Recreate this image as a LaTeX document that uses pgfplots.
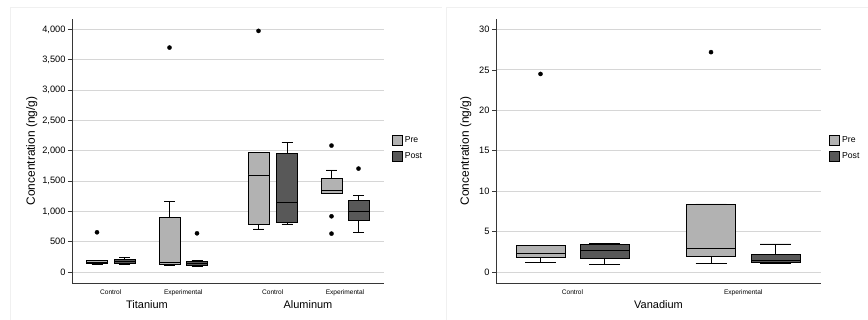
\documentclass[border=0pt]{standalone}
\usepackage{pgfplots}
\pgfplotsset{compat=1.18}
\usepgfplotslibrary{statistics}
\usepackage{fontspec}
\setmainfont{Liberation Sans}
\definecolor{preC}{RGB}{178,178,178}
\definecolor{postC}{RGB}{88,88,88}
\definecolor{gridC}{RGB}{214,214,214}
\definecolor{axC}{RGB}{55,55,55}
\pgfplotsset{
  myaxis/.style={
    scale only axis, height=264bp,
    clip=false,
    separate axis lines,
    axis x line=bottom, axis y line=left,
    axis line style={-, axC, line width=1bp},
    ymajorgrids, grid style={gridC, line width=0.9bp},
    tick align=outside, major tick length=4bp,
    xtick style={draw=none},
    ytick style={axC, line width=0.8bp},
    yticklabel style={font=\fontsize{9.3}{10}\selectfont, xshift=1bp},
    xticklabel style={font=\fontsize{6.6}{8}\selectfont, yshift=1bp},
    ylabel style={font=\fontsize{12}{14}\selectfont},
    /pgf/number format/assume math mode=true,
    /pgf/number format/1000 sep={,},
    scaled y ticks=false,
    boxplot/draw direction=y,
    legend style={draw=none, fill=none, font=\fontsize{8.7}{10}\selectfont,
      inner sep=0pt, row sep=4.6bp, anchor=north west},
    legend cell align=left,
    legend image code/.code={\draw[#1] (0bp,-5bp) rectangle (10bp,5bp);},
  },
  bx/.style={forget plot, draw=black, line width=0.8bp, mark=*, mark size=2.1bp,
    mark options={fill=black, draw=black, line width=0.3bp}},
}
\begin{document}
\begin{tikzpicture}
\useasboundingbox (0,0) rectangle (868bp,320bp);
\draw[black!6, line width=0.6bp] (10bp,0bp) -- (10bp,313bp) -- (442bp,313bp);
\draw[black!6, line width=0.6bp] (446bp,0bp) -- (446bp,313bp) -- (868bp,313bp);
% ---------------- Left panel: Titanium and Aluminum
\begin{axis}[myaxis,
  at={(72bp,37bp)}, anchor=south west,
  width=312bp,
  xmin=72, xmax=384, ymin=-182, ymax=4175,
  ytick={0,500,...,4000},
  xtick={110.75,183.25,272.75,345},
  xticklabels={Control,Experimental,Control,Experimental},
  ylabel={Concentration (ng/g)},
  ylabel style={at={(axis description cs:-0.129,0.5)}, anchor=center},
  legend style={at={(axis description cs:1.025,0.563)}},
]
\addlegendimage{fill=preC, draw=black, line width=0.8bp}
\addlegendentry{Pre}
\addlegendimage{fill=postC, draw=black, line width=0.8bp}
\addlegendentry{Post}
% Titanium Control
\addplot[bx, fill=preC, boxplot prepared={draw position=97, box extend=21, whisker extend=11,
  lower whisker=130, lower quartile=140, median=152, upper quartile=190, upper whisker=190}]
  table[row sep=\\, y index=0] {y\\ 655\\};
\addplot[bx, fill=postC, boxplot prepared={draw position=124.5, box extend=21, whisker extend=11,
  lower whisker=120, lower quartile=145, median=180, upper quartile=208, upper whisker=242}]
  coordinates {};
% Titanium Experimental
\addplot[bx, fill=preC, boxplot prepared={draw position=169.5, box extend=21, whisker extend=11,
  lower whisker=105, lower quartile=127, median=154, upper quartile=897, upper whisker=1167}]
  table[row sep=\\, y index=0] {y\\ 3703\\};
\addplot[bx, fill=postC, boxplot prepared={draw position=197, box extend=21, whisker extend=11,
  lower whisker=100, lower quartile=115, median=143, upper quartile=182, upper whisker=190}]
  table[row sep=\\, y index=0] {y\\ 638\\};
% Aluminum Control
\addplot[bx, fill=preC, boxplot prepared={draw position=258.5, box extend=21, whisker extend=11,
  lower whisker=710, lower quartile=787, median=1601, upper quartile=1976, upper whisker=1976}]
  table[row sep=\\, y index=0] {y\\ 3979\\};
\addplot[bx, fill=postC, boxplot prepared={draw position=287, box extend=21, whisker extend=11,
  lower whisker=792, lower quartile=814, median=1150, upper quartile=1965, upper whisker=2135}]
  coordinates {};
% Aluminum Experimental
\addplot[bx, fill=preC, boxplot prepared={draw position=331.5, box extend=21, whisker extend=11,
  lower whisker=1299, lower quartile=1299, median=1348, upper quartile=1546, upper whisker=1684}]
  table[row sep=\\, y index=0] {y\\ 2086\\ 919\\ 633\\};
\addplot[bx, fill=postC, boxplot prepared={draw position=358.5, box extend=21, whisker extend=11,
  lower whisker=655, lower quartile=847, median=1007, upper quartile=1183, upper whisker=1260}]
  table[row sep=\\, y index=0] {y\\ 1706\\};
\node[font=\fontsize{11}{13}\selectfont, yshift=-22bp] at (rel axis cs:0.2404,0) {Titanium};
\node[font=\fontsize{11}{13}\selectfont, yshift=-22bp] at (rel axis cs:0.7564,0) {Aluminum};
\end{axis}
% ---------------- Right panel: Vanadium
\begin{axis}[myaxis,
  at={(496bp,37bp)}, anchor=south west,
  width=325bp,
  xmin=496, xmax=821, ymin=-1.36, ymax=31.3,
  ytick={0,5,...,30},
  xtick={572.5,743.25},
  xticklabels={Control,Experimental},
  ylabel={Concentration (ng/g)},
  ylabel style={at={(axis description cs:-0.0932,0.5)}, anchor=center},
  legend style={at={(axis description cs:1.025,0.563)}},
]
\addlegendimage{fill=preC, draw=black, line width=0.8bp}
\addlegendentry{Pre}
\addlegendimage{fill=postC, draw=black, line width=0.8bp}
\addlegendentry{Post}
% Vanadium Control
\addplot[bx, fill=preC, boxplot prepared={draw position=540.5, box extend=49, whisker extend=31,
  lower whisker=1.16, lower quartile=1.77, median=2.31, upper quartile=3.30, upper whisker=3.30}]
  table[row sep=\\, y index=0] {y\\ 24.5\\};
\addplot[bx, fill=postC, boxplot prepared={draw position=604.5, box extend=49, whisker extend=31,
  lower whisker=0.99, lower quartile=1.65, median=2.72, upper quartile=3.38, upper whisker=3.50}]
  coordinates {};
% Vanadium Experimental
\addplot[bx, fill=preC, boxplot prepared={draw position=711, box extend=49, whisker extend=31,
  lower whisker=1.07, lower quartile=1.90, median=2.93, upper quartile=8.42, upper whisker=8.42}]
  table[row sep=\\, y index=0] {y\\ 27.2\\};
\addplot[bx, fill=postC, boxplot prepared={draw position=775.5, box extend=49, whisker extend=31,
  lower whisker=1.11, lower quartile=1.20, median=1.40, upper quartile=2.23, upper whisker=3.47}]
  coordinates {};
\node[font=\fontsize{11}{13}\selectfont, yshift=-22bp] at (rel axis cs:0.5,0) {Vanadium};
\end{axis}
\end{tikzpicture}
\end{document}
